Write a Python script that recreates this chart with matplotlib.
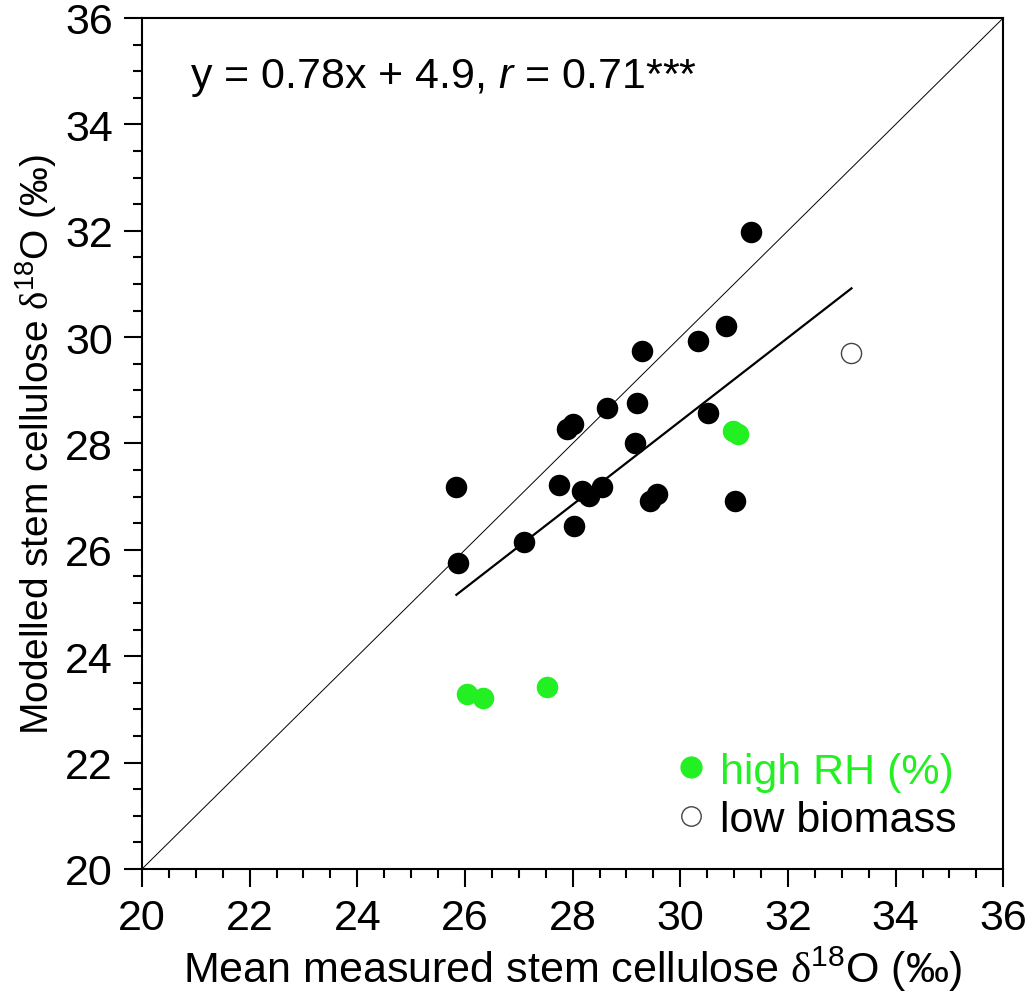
import numpy as np
import matplotlib
matplotlib.use("Agg")
from matplotlib import pyplot as plt
from matplotlib.ticker import MultipleLocator
from matplotlib.lines import Line2D

plt.rcParams['font.family'] = ['Liberation Sans', 'DejaVu Sans']
plt.rcParams['mathtext.fontset'] = 'custom'
plt.rcParams['mathtext.rm'] = 'Liberation Sans'
plt.rcParams['mathtext.it'] = 'Liberation Sans:italic'
plt.rcParams['mathtext.sf'] = 'Liberation Serif'

# Black points: measured vs modelled stem cellulose d18O
meas_all = [31.32, 30.85, 30.33, 29.28, 28.64, 29.20, 27.90, 28.01, 30.52, 29.16,
            27.75, 28.18, 28.31, 28.55, 29.44, 29.57, 31.02, 25.84, 25.87, 27.10, 28.03]
mod_all = [31.98, 30.21, 29.93, 29.74, 28.67, 28.76, 28.27, 28.37, 28.58, 28.01,
           27.22, 27.11, 27.02, 27.18, 26.92, 27.05, 26.92, 27.18, 25.76, 26.15, 26.45]

# high RH points (green)
meas_rh = [30.98, 31.07, 26.04, 26.34, 27.53]
mod_rh = [28.24, 28.18, 23.29, 23.22, 23.42]

# low biomass point (open)
meas_lb = [33.18]
mod_lb = [29.70]

# regression line as drawn
fit_slope = 0.785
fit_intercept = 4.87
fit_xrange = [25.84, 33.18]

green = '#22f022'
fs = 31

fig = plt.figure(figsize=(10.29, 10.04), dpi=100)
ax = fig.add_axes([0.138, 0.1335, 0.837, 0.8476])

# 1:1 line
ax.plot([20, 36], [20, 36], color='black', lw=0.7)
# fitted line
fx = np.array(fit_xrange)
ax.plot(fx, fit_slope * fx + fit_intercept, color='black', lw=1.6)

ax.scatter(meas_all, mod_all, s=240, color='black', zorder=3, linewidths=0)
ax.scatter(meas_rh, mod_rh, s=240, color=green, zorder=3, linewidths=0)
ax.scatter(meas_lb, mod_lb, s=210, facecolor='white', edgecolor='#444444',
           linewidths=1.0, zorder=3)

ax.set_xlim(20, 36)
ax.set_ylim(20, 36)
ax.xaxis.set_major_locator(MultipleLocator(2))
ax.yaxis.set_major_locator(MultipleLocator(2))
ax.xaxis.set_minor_locator(MultipleLocator(0.5))
ax.yaxis.set_minor_locator(MultipleLocator(0.5))
ax.tick_params(which='major', direction='out', length=13, width=1.5,
               labelsize=fs, pad=8)
ax.tick_params(which='minor', direction='out', length=6.5, width=1.5)
for sp in ax.spines.values():
    sp.set_linewidth(1.5)

ax.set_xlabel('Mean measured stem cellulose $\\mathsf{\u03b4}^{18}$O (\u2030)',
              fontsize=fs, labelpad=4)
ax.set_ylabel('Modelled stem cellulose $\\mathsf{\u03b4}^{18}$O (\u2030)',
              fontsize=28, labelpad=4.5)

ax.text(0.056, 0.931, 'y = 0.78x + 4.9, $\\mathit{r}$ = 0.71***',
        transform=ax.transAxes, fontsize=fs, va='center', ha='left')

handles = [
    Line2D([], [], ls='none', marker='o', ms=15, mfc=green, mec=green),
    Line2D([], [], ls='none', marker='o', ms=14, mfc='white', mec='#444444', mew=1.0),
]
leg = ax.legend(handles, ['high RH (%)', 'low biomass'], loc='upper left',
                bbox_to_anchor=(0.612, 0.138), frameon=False, fontsize=fs,
                borderaxespad=0, borderpad=0, handlelength=1.0,
                handletextpad=0.18, labelspacing=0.2,
                labelcolor=[green, 'black'])

fig.savefig('out.png', dpi=100)
